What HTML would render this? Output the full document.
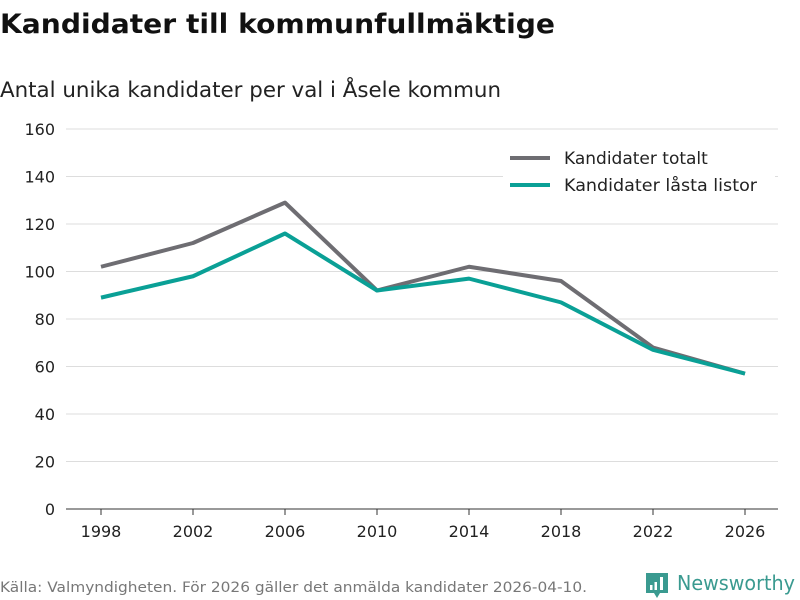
<!DOCTYPE html>
<html><head><meta charset="utf-8"><style>
body{margin:0;background:#fff;}
svg{display:block;font-family:"DejaVu Sans","Liberation Sans",sans-serif;}
</style></head><body>
<svg width="800" height="600" viewBox="0 0 800 600">
<text x="0" y="33" font-size="27" font-weight="bold" fill="#111" textLength="555" lengthAdjust="spacingAndGlyphs">Kandidater till kommunfullmäktige</text>
<text x="0" y="97" font-size="21" fill="#222" textLength="501" lengthAdjust="spacingAndGlyphs">Antal unika kandidater per val i Åsele kommun</text>
<g id="grid"></g>
<g id="yticks"></g>
<g id="xticks"></g>
<g id="lines"></g>
<g>
<rect x="503" y="144" width="272" height="58" fill="#fff"/>
<line x1="510" y1="158" x2="550" y2="158" stroke="#6e6d72" stroke-width="4"/>
<text x="564" y="164" font-size="17" fill="#222">Kandidater totalt</text>
<line x1="510" y1="185" x2="550" y2="185" stroke="#0aa096" stroke-width="4"/>
<text x="564" y="191" font-size="17" fill="#222" textLength="193" lengthAdjust="spacingAndGlyphs">Kandidater låsta listor</text>
</g>
<text x="0" y="592" font-size="14" fill="#777" textLength="587" lengthAdjust="spacingAndGlyphs">Källa: Valmyndigheten. För 2026 gäller det anmälda kandidater 2026-04-10.</text>
<g>
<path d="M646 573h22v20h-8l-3 5l-3-5h-8z" fill="#3a9a90"/>
<rect x="650" y="585" width="2.5" height="5" fill="#fff"/>
<rect x="654.5" y="582" width="2.5" height="8" fill="#fff"/>
<rect x="660" y="577" width="3" height="13" fill="#fff"/>
<text x="677" y="590" font-size="20" fill="#3a9a90" textLength="118" lengthAdjust="spacingAndGlyphs">Newsworthy</text>
</g>
</svg>
<script>
const years=["1998","2002","2006","2010","2014","2018","2022","2026"];
const totalt=[102,112,129,92,102,96,68,57];
const lasta=[89,98,116,92,97,87,67,57];
const yTicks=[0,20,40,60,80,100,120,140,160];
const NS="http://www.w3.org/2000/svg";
const x=i=>101+i*92;
const y=v=>509-v*(380/160);
function mk(t,a,p){const e=document.createElementNS(NS,t);for(const k in a)e.setAttribute(k,a[k]);p.appendChild(e);return e;}
const g=document.getElementById('grid'),yt=document.getElementById('yticks'),xt=document.getElementById('xticks'),ln=document.getElementById('lines');
yTicks.forEach(v=>{
 const l=mk('line',{x1:66,x2:778,y1:y(v),y2:y(v),stroke:v===0?'#333':'#ddd','stroke-width':1},g);
 
 
 const t=mk('text',{x:55,y:y(v)+6,'text-anchor':'end','font-size':16,fill:'#222'},yt);
 t.textContent=v;
 
 
});
years.forEach((yr,i)=>{
 const tk=mk('line',{x1:x(i),x2:x(i),y1:509,y2:515,stroke:'#333'},xt);
 
 
 const t=mk('text',{x:x(i),y:537,'text-anchor':'middle','font-size':16,fill:'#222'},xt);
 t.textContent=yr;
 
 
});
function line(vals,col,name){
 const p=mk('polyline',{points:vals.map((v,i)=>x(i)+','+y(v)).join(' '),fill:'none',stroke:col,'stroke-width':4,'stroke-linejoin':'round'},ln);
 
 
}
line(totalt,'#6e6d72','line-kandidater-totalt');
line(lasta,'#0aa096','line-kandidater-lasta-listor');
</script>
</body></html>
